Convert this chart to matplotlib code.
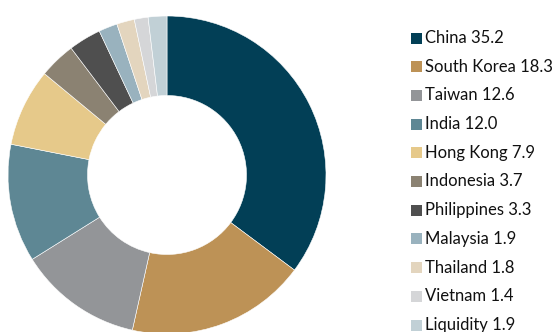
import matplotlib.pyplot as plt
from matplotlib.patches import Rectangle

# Country weights (%) of the portfolio
countries = ["China", "South Korea", "Taiwan", "India", "Hong Kong", "Indonesia",
             "Philippines", "Malaysia", "Thailand", "Vietnam", "Liquidity"]
weights = [35.2, 18.3, 12.6, 12.0, 7.9, 3.7, 3.3, 1.9, 1.8, 1.4, 1.9]
colors = ["#023f56", "#bd9256", "#939598", "#5e8794", "#e6c98a", "#8b8272",
          "#4f4f4f", "#99b2be", "#e3d5be", "#d5d6d8", "#c1d0d6"]

W, H = 555, 332
fig = plt.figure(figsize=(W / 100, H / 100), dpi=100)

# donut: centre (167, 175) px, outer radius 159 px
cx, cy, r = 167, 175, 159
ax = fig.add_axes([(cx - r) / W, (H - cy - r) / H, 2 * r / W, 2 * r / H])
ax.pie(weights, colors=colors, startangle=90, counterclock=False,
       wedgeprops=dict(width=0.5, edgecolor="white", linewidth=0.4))
ax.set_xlim(-1, 1)
ax.set_ylim(-1, 1)
ax.set_aspect("equal")
ax.axis("off")

# legend drawn by hand on the right
y0, step = 38, 28.7
for i, (name, val, col) in enumerate(zip(countries, weights, colors)):
    y = y0 + i * step
    fig.patches.append(Rectangle((411 / W, (H - y - 5.5) / H), 11 / W, 11 / H,
                                 transform=fig.transFigure, facecolor=col,
                                 edgecolor="none"))
    fig.text(425 / W, (H - y) / H, f"{name} {val:.1f}", va="center", ha="left",
             fontsize=12, family="Lato", color="#111111")

fig.savefig("out.png", dpi=100)
